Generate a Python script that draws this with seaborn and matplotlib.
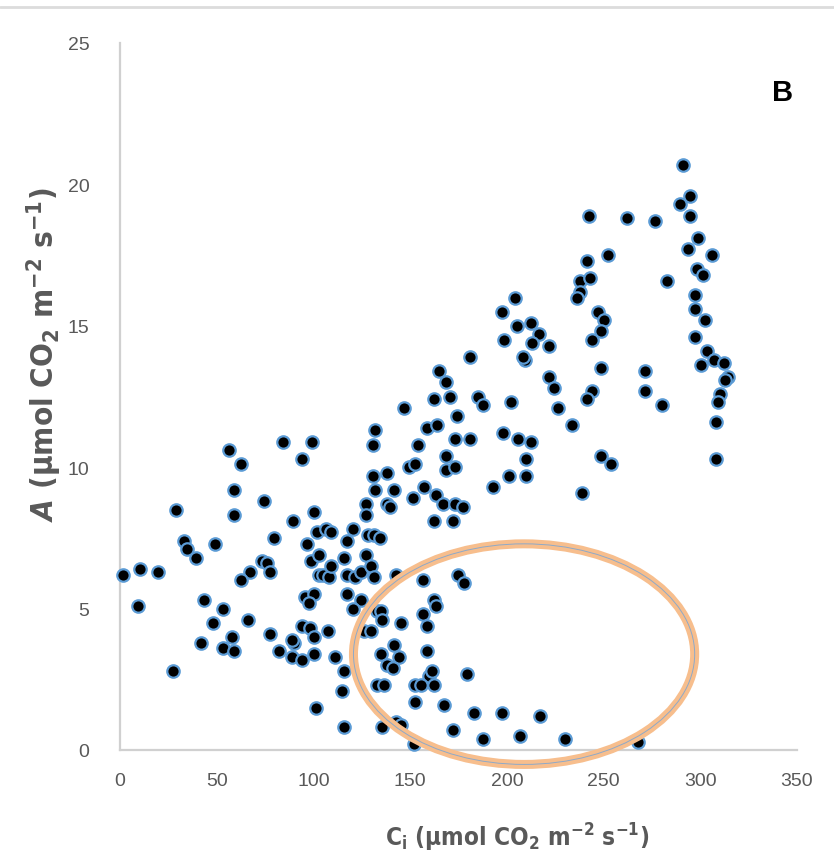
import matplotlib
matplotlib.use("Agg")
import matplotlib.pyplot as plt
from matplotlib.patches import Ellipse
from matplotlib.lines import Line2D
import seaborn as sns
import pandas as pd

# Intercellular CO2 (Ci) and net assimilation (A) for each leaf measurement
ci = [1.7, 10.4, 19.9, 9.2, 28.7, 33.2, 34.6, 39.4, 48.9, 43.2, 27.3, 53.1, 48.1, 41.9, 57.9,
      53.1, 59.1, 66.2, 56.2, 62.8, 58.8, 58.8, 74.7, 79.5, 84.4, 99.1, 94.2, 89.2, 100.3, 101.7,
      96.6, 73.5, 76.1, 77.4, 67.4, 62.6, 98.9, 102.9, 102.9, 95.4, 100.3, 97.7, 77.3, 82.1, 89.7,
      89.1, 93.9, 98.2, 100.3, 89.1, 94.2, 100.3, 101.1,
      106.3, 109.3, 120.2, 117.2, 130.6, 131.7, 127.1, 127.1, 128.0, 131.4, 134.5, 105.1, 108.0,
      109.3, 115.8, 117.2, 121.4, 127.1, 124.5, 129.7, 131.1, 117.2, 124.5, 120.7, 107.5, 126.2,
      130.0, 133.1, 111.2, 115.8, 114.6, 115.8, 134.9, 135.7, 145.2, 156.5, 158.7, 162.5, 163.4,
      142.6, 156.5, 174.6, 178.1, 134.9, 141.8, 144.3, 138.0, 140.9, 158.7, 159.9, 161.3, 162.5,
      133.1, 136.3, 152.6, 155.6, 152.5, 167.4, 179.3, 182.9, 197.5, 135.2, 142.6, 145.2, 172.0,
      187.6, 206.6, 217.0, 230.3, 268.0, 152.1,
      197.6, 204.0, 205.4, 198.5, 180.7, 164.8, 168.6, 170.8, 162.2, 146.6, 185.2, 187.9, 202.4,
      174.3, 158.7, 163.9, 173.3, 180.7, 198.2, 205.8, 212.3, 131.7, 130.6, 153.9, 168.6, 149.2,
      152.5, 168.4, 173.3, 209.7, 201.2, 209.7, 192.9, 138.1, 141.8, 157.3, 151.3, 163.6, 138.0,
      139.7, 167.1, 173.3, 177.5, 162.5, 172.0,
      291.0, 294.8, 289.6, 294.8, 242.4, 261.9, 276.6, 298.8, 293.6, 306.0, 241.2, 252.1, 237.7,
      242.9, 237.7, 236.5, 282.7, 298.3, 301.3, 297.4, 297.4, 302.2, 297.4, 303.4, 306.9, 312.1,
      300.5, 314.3, 312.9, 310.3, 309.1, 308.2, 308.2,
      212.3, 216.4, 213.0, 221.8, 209.2, 208.4, 247.2, 250.4, 248.6, 243.8, 248.6, 271.4, 221.8,
      224.4, 243.8, 241.2, 271.4, 280.1, 233.9, 226.5, 248.6, 253.6, 238.9]

a = [6.2, 6.4, 6.3, 5.1, 8.5, 7.4, 7.1, 6.8, 7.3, 5.3, 2.8, 5.0, 4.5, 3.8, 4.0,
     3.6, 3.5, 4.6, 10.6, 10.1, 9.2, 8.3, 8.8, 7.5, 10.9, 10.9, 10.3, 8.1, 8.4, 7.7,
     7.3, 6.7, 6.6, 6.3, 6.3, 6.0, 6.7, 6.9, 6.2, 5.4, 5.5, 5.2, 4.1, 3.5, 3.8,
     3.9, 4.4, 4.3, 4.0, 3.3, 3.2, 3.4, 1.5,
     7.8, 7.7, 7.8, 7.4, 9.7, 9.2, 8.7, 8.3, 7.6, 7.6, 7.5, 6.2, 6.1,
     6.5, 6.8, 6.2, 6.1, 6.9, 6.3, 6.5, 6.1, 5.5, 5.3, 5.0, 4.2, 4.2,
     4.2, 4.9, 3.3, 2.8, 2.1, 0.8, 4.9, 4.6, 4.5, 4.8, 4.4, 5.3, 5.1,
     6.2, 6.0, 6.2, 5.9, 3.4, 3.7, 3.3, 3.0, 2.9, 3.5, 2.6, 2.8, 2.3,
     2.3, 2.3, 2.3, 2.3, 1.7, 1.6, 2.7, 1.3, 1.3, 0.8, 1.0, 0.9, 0.7,
     0.4, 0.5, 1.2, 0.4, 0.3, 0.2,
     15.5, 16.0, 15.0, 14.5, 13.9, 13.4, 13.0, 12.5, 12.4, 12.1, 12.5, 12.2, 12.3,
     11.8, 11.4, 11.5, 11.0, 11.0, 11.2, 11.0, 10.9, 11.3, 10.8, 10.8, 10.4, 10.0,
     10.1, 9.9, 10.0, 10.3, 9.7, 9.7, 9.3, 9.8, 9.2, 9.3, 8.9, 9.0, 8.7,
     8.6, 8.7, 8.7, 8.6, 8.1, 8.1,
     20.7, 19.6, 19.3, 18.9, 18.9, 18.8, 18.7, 18.1, 17.7, 17.5, 17.3, 17.5, 16.6,
     16.7, 16.2, 16.0, 16.6, 17.0, 16.8, 16.1, 15.6, 15.2, 14.6, 14.1, 13.8, 13.7,
     13.6, 13.2, 13.1, 12.6, 12.3, 11.6, 10.3,
     15.1, 14.7, 14.4, 14.3, 13.8, 13.9, 15.5, 15.2, 14.8, 14.5, 13.5, 13.4, 13.2,
     12.8, 12.7, 12.4, 12.7, 12.2, 11.5, 12.1, 10.4, 10.1, 9.1]

x_ticks = [0, 50, 100, 150, 200, 250, 300, 350]
y_ticks = [0, 5, 10, 15, 20, 25]

# Region of low assimilation at moderate Ci that is circled on the panel
ring_center = (208.9, 3.39)
ring_size = (176.4, 7.8)

df = pd.DataFrame({"Ci": ci, "A": a})

sns.set_theme(style="white")
plt.rcParams["font.family"] = ["Liberation Sans", "DejaVu Sans"]
label_font = "DejaVu Sans:weight=bold:stretch=condensed"
plt.rcParams["mathtext.fontset"] = "custom"
plt.rcParams["mathtext.rm"] = label_font
plt.rcParams["mathtext.it"] = "DejaVu Sans:weight=bold:style=oblique:stretch=condensed"
plt.rcParams["mathtext.bf"] = label_font
plt.rcParams["mathtext.sf"] = label_font

W, H = 834, 862
fig = plt.figure(figsize=(W / 100, H / 100), dpi=100)
ax = fig.add_axes([120 / W, (H - 751) / H, (797 - 120) / W, (751 - 44) / H])

sns.scatterplot(data=df, x="Ci", y="A", ax=ax, color="black", edgecolor="#5B9BD5",
                linewidth=1.6, s=80, zorder=3, clip_on=False)

ax.set_xlim(0, 350)
ax.set_ylim(0, 25)
ax.set_xticks(x_ticks)
ax.set_yticks(y_ticks)
ax.set_xticklabels([str(t) for t in x_ticks])
ax.set_yticklabels([str(t) for t in y_ticks])
ax.tick_params(axis="both", length=0, labelsize=14, labelcolor="#595959")
ax.tick_params(axis="y", pad=22)
ax.tick_params(axis="x", pad=16)

for side in ("top", "right"):
    ax.spines[side].set_visible(False)
for side in ("left", "bottom"):
    ax.spines[side].set_color("#d0d0d0")
    ax.spines[side].set_linewidth(1.6)

ax.set_xlabel(r"$\mathrm{C_i\ (\mu mol\ CO_2\ m^{-2}\ s^{-1})}$", fontsize=17.5, color="#595959")
ax.set_ylabel(r"$A\ \mathrm{(\mu mol\ CO_2\ m^{-2}\ s^{-1})}$", fontsize=22.5, color="#595959")
ax.xaxis.set_label_coords((517 - 120) / 677, (751 - 822) / 707)
ax.yaxis.set_label_coords((64 - 120) / 677, (751 - 355) / 707)

# Orange ring with a thin inner stroke
ring = Ellipse(ring_center, ring_size[0], ring_size[1], fill=False,
               edgecolor="#F7BE8D", linewidth=6.5, zorder=5, clip_on=False)
ring_inner = Ellipse(ring_center, ring_size[0], ring_size[1], fill=False,
                     edgecolor="#8EA9C8", linewidth=0.7, zorder=6, clip_on=False)
ax.add_patch(ring)
ax.add_patch(ring_inner)

ax.text((783 - 120) / 677, (751 - 93) / 707, "B", transform=ax.transAxes,
        ha="center", va="center", fontsize=21, fontweight="bold", color="black",
        family=["Liberation Sans", "DejaVu Sans"])

fig.add_artist(Line2D([0, 1], [1 - 8 / H, 1 - 8 / H], color="#dcdcdc", linewidth=2.0))

fig.savefig("out.png", dpi=100, facecolor="white")
